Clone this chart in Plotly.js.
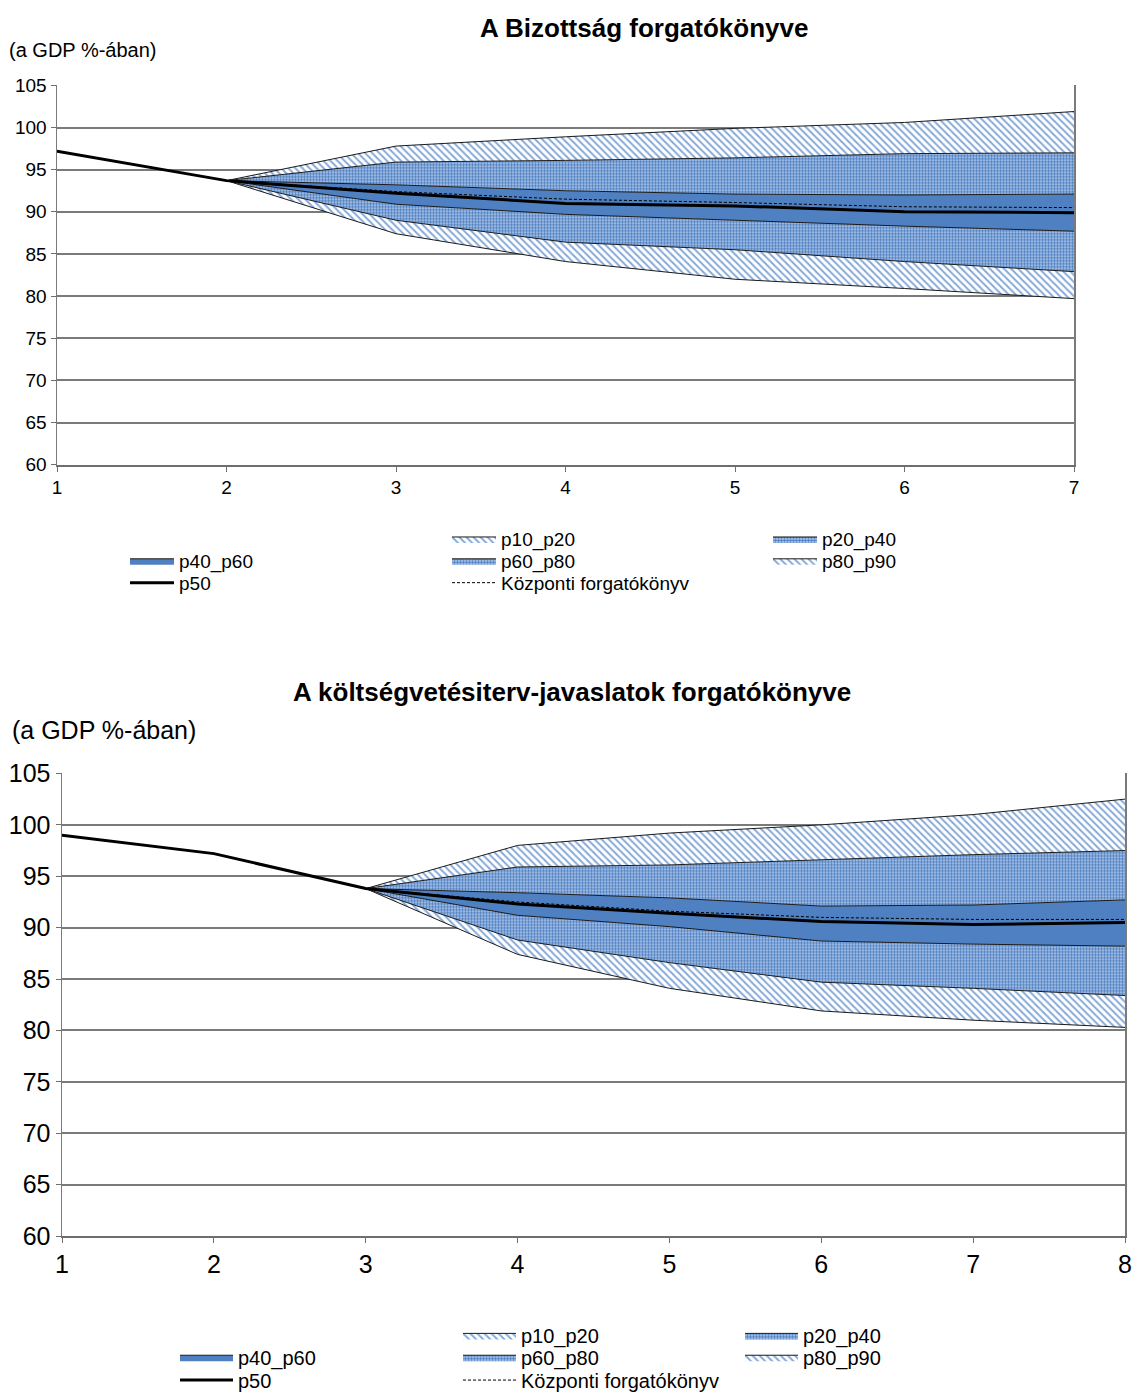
<!DOCTYPE html>
<html>
<head>
<meta charset="utf-8">
<script src="https://cdn.plot.ly/plotly-3.0.1.min.js"></script>
<style>
html,body{margin:0;padding:0;background:#fff;width:1133px;height:1400px;overflow:hidden;}
#chart{width:1133px;height:1400px;}
</style>
</head>
<body>
<div id="chart"></div>
<script>
// ---- Data: Chart 1 (A Bizottság forgatókönyve) ----
const years1 = [1, 2, 3, 4, 5, 6, 7];
const bandYears1 = [2, 3, 4, 5, 6, 7];
const p50_1 = [97.2, 93.7, 92.2, 91.0, 90.7, 90.0, 89.9];
const central1 = [97.2, 93.7, 92.4, 91.5, 91.1, 90.6, 90.5];
const p10_1 = [93.7, 87.4, 84.1, 82.0, 80.9, 79.7];
const p20_1 = [93.7, 89.0, 86.4, 85.5, 84.1, 82.9];
const p40_1 = [93.7, 90.9, 89.7, 89.0, 88.3, 87.7];
const p60_1 = [93.7, 93.2, 92.5, 92.1, 92.0, 92.1];
const p80_1 = [93.7, 95.9, 96.1, 96.4, 96.9, 97.0];
const p90_1 = [93.7, 97.8, 98.9, 99.9, 100.6, 101.9];

// ---- Data: Chart 2 (A költségvetésiterv-javaslatok forgatókönyve) ----
const years2 = [1, 2, 3, 4, 5, 6, 7, 8];
const bandYears2 = [3, 4, 5, 6, 7, 8];
const p50_2 = [99.0, 97.2, 93.8, 92.3, 91.4, 90.6, 90.3, 90.5];
const central2 = [99.0, 97.2, 93.8, 92.5, 91.6, 91.0, 90.8, 90.8];
const p10_2 = [93.8, 87.4, 84.1, 81.9, 81.0, 80.3];
const p20_2 = [93.8, 88.8, 86.6, 84.7, 84.1, 83.4];
const p40_2 = [93.8, 91.2, 90.1, 88.7, 88.4, 88.2];
const p60_2 = [93.8, 93.4, 92.9, 92.1, 92.2, 92.7];
const p80_2 = [93.8, 95.9, 96.1, 96.6, 97.1, 97.5];
const p90_2 = [93.8, 98.0, 99.2, 100.0, 101.0, 102.5];

const yTicks = [60, 65, 70, 75, 80, 85, 90, 95, 100, 105];
const bandNames = ['p10_p20', 'p20_p40', 'p40_p60', 'p60_p80', 'p80_p90'];
const lineNames = ['p50', 'Központi forgatókönyv'];

// ---- Styles ----
const FONT = 'Liberation Sans, Arial, sans-serif';
const edge = {color: '#1a1a1a', width: 1};
const hatch = {shape: '\\', fgcolor: '#86a9d8', bgcolor: '#ffffff', size: 5, solidity: 0.4};
const dots = {shape: '.', fgcolor: '#4a7cc0', bgcolor: '#b9cfee', size: 3, solidity: 0.55};
const solid = '#4f81c2';

// legend ids per item: [p10_p20, p20_p40, p40_p60, p60_p80, p80_p90, p50, central]
function bandTraces(xs, vals, xa, ya, L) {
  const [p10, p20, p40, p60, p80, p90] = vals;
  const base = {x: xs, mode: 'lines', line: edge, xaxis: xa, yaxis: ya, hoverinfo: 'skip'};
  return [
    Object.assign({}, base, {y: p10, showlegend: false, fill: 'none'}),
    Object.assign({}, base, {y: p20, name: bandNames[0], fill: 'tonexty', fillcolor: '#ffffff', fillpattern: hatch, legend: L[0]}),
    Object.assign({}, base, {y: p40, name: bandNames[1], fill: 'tonexty', fillcolor: '#b9cfee', fillpattern: dots, legend: L[1]}),
    Object.assign({}, base, {y: p60, name: bandNames[2], fill: 'tonexty', fillcolor: solid, legend: L[2]}),
    Object.assign({}, base, {y: p80, name: bandNames[3], fill: 'tonexty', fillcolor: '#b9cfee', fillpattern: dots, legend: L[3]}),
    Object.assign({}, base, {y: p90, name: bandNames[4], fill: 'tonexty', fillcolor: '#ffffff', fillpattern: hatch, legend: L[4]})
  ];
}

const L1 = ['legend', 'legend2', 'legend3', 'legend4', 'legend5', 'legend6', 'legend7'];
const L2 = ['legend8', 'legend9', 'legend10', 'legend11', 'legend12', 'legend13', 'legend14'];

const traces = [];
traces.push(...bandTraces(bandYears1, [p10_1, p20_1, p40_1, p60_1, p80_1, p90_1], 'x', 'y', L1));
traces.push({x: years1, y: central1, name: lineNames[1], mode: 'lines', line: {color: '#000', width: 1, dash: '3px,2px'}, xaxis: 'x', yaxis: 'y', legend: L1[6]});
traces.push({x: years1, y: p50_1, name: lineNames[0], mode: 'lines', line: {color: '#000', width: 3}, xaxis: 'x', yaxis: 'y', legend: L1[5]});

traces.push(...bandTraces(bandYears2, [p10_2, p20_2, p40_2, p60_2, p80_2, p90_2], 'x2', 'y2', L2));
traces.push({x: years2, y: central2, name: lineNames[1], mode: 'lines', line: {color: '#000', width: 1, dash: '3px,2px'}, xaxis: 'x2', yaxis: 'y2', legend: L2[6]});
traces.push({x: years2, y: p50_2, name: lineNames[0], mode: 'lines', line: {color: '#000', width: 3}, xaxis: 'x2', yaxis: 'y2', legend: L2[5]});

const W = 1133, H = 1400;
const px = v => v / W;
const py = v => 1 - v / H;

function xAxis(range, dom, anchor, fs) {
  return {
    domain: dom, anchor: anchor, range: range, dtick: 1, tick0: 1,
    showgrid: false, zeroline: false, showline: true, linecolor: '#6e6e6e', linewidth: 2,
    ticks: 'outside', ticklen: 5, tickcolor: '#6e6e6e', tickwidth: 1,
    tickfont: {family: FONT, size: fs, color: '#000'}, fixedrange: true
  };
}
function yAxis(dom, anchor, fs) {
  return {
    domain: dom, anchor: anchor, range: [60, 105], tickvals: yTicks,
    showgrid: true, gridcolor: '#7a7a7a', gridwidth: 2, zeroline: false,
    showline: true, mirror: true, linecolor: '#7a7a7a', linewidth: 1.5,
    ticks: 'outside', ticklen: 5, tickcolor: '#6e6e6e',
    tickfont: {family: FONT, size: fs, color: '#000'}, fixedrange: true
  };
}
// symLeft: left of legend symbol (px), yc: row centre (px)
function leg(symLeft, yc, fs, iw) {
  return {x: px(symLeft - 5), y: py(yc), xanchor: 'left', yanchor: 'middle', orientation: 'v',
    bgcolor: 'rgba(0,0,0,0)', borderwidth: 0, itemclick: false, itemwidth: iw,
    font: {family: FONT, size: fs, color: '#000'}};
}

const layout = {
  width: W, height: H,
  margin: {l: 0, r: 0, t: 0, b: 0},
  paper_bgcolor: '#fff', plot_bgcolor: '#fff',
  showlegend: true,
  xaxis: xAxis([1, 7], [px(57), px(1074)], 'y', 19),
  yaxis: yAxis([py(468), py(86)], 'x', 19),
  xaxis2: xAxis([1, 8], [px(62), px(1125)], 'y2', 25),
  yaxis2: yAxis([py(1245), py(779)], 'x2', 25),
  annotations: [
    {text: '<b>A Bizottság forgatókönyve</b>', x: px(644), y: py(28), xref: 'paper', yref: 'paper', xanchor: 'center', yanchor: 'middle', showarrow: false, font: {family: FONT, size: 26, color: '#000'}},
    {text: '(a GDP %-ában)', x: px(7), y: py(50), xref: 'paper', yref: 'paper', xanchor: 'left', yanchor: 'middle', showarrow: false, font: {family: FONT, size: 20, color: '#000'}},
    {text: '<b>A költségvetésiterv-javaslatok forgatókönyve</b>', x: px(572), y: py(697), xref: 'paper', yref: 'paper', xanchor: 'center', yanchor: 'middle', showarrow: false, font: {family: FONT, size: 26, color: '#000'}},
    {text: '(a GDP %-ában)', x: px(10), y: py(735), xref: 'paper', yref: 'paper', xanchor: 'left', yanchor: 'middle', showarrow: false, font: {family: FONT, size: 25, color: '#000'}}
  ]
};

// legend rows (symbol left x, row centre y)
const pos1 = [[452, 543], [773, 543], [130, 565], [452, 565], [773, 565], [130, 587], [452, 587]];
const pos2 = [[463, 1345], [745, 1345], [180, 1367], [463, 1367], [745, 1367], [180, 1390], [463, 1390]];
L1.forEach((id, i) => { layout[id] = leg(pos1[i][0], pos1[i][1], 19, 44); });
L2.forEach((id, i) => { layout[id] = leg(pos2[i][0], pos2[i][1], 20, 53); });

Plotly.newPlot('chart', traces, layout, {staticPlot: true, displayModeBar: false});
</script>
</body>
</html>
